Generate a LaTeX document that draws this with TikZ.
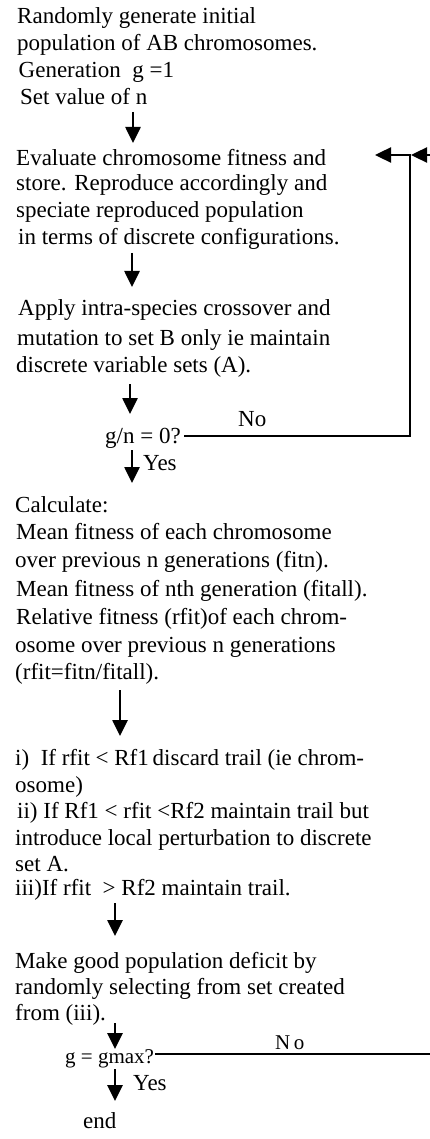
\documentclass[tikz,border=0pt]{standalone}
\usepackage{fontspec}
\setmainfont{Liberation Serif}
\usetikzlibrary{arrows.meta}
\begin{document}
\begin{tikzpicture}[x=1pt,y=-1pt,
  txt/.style={anchor=base west,inner sep=0pt,font=\fontsize{23}{26}\selectfont},
  smalltxt/.style={anchor=base west,inner sep=0pt,font=\fontsize{21}{24}\selectfont},
  arr/.style={line width=2.6pt,-{Triangle[width=15pt,length=16pt]}},
  loopline/.style={line width=2.4pt}]
\useasboundingbox (0,0) rectangle (429,1139);
% block 1
\node[txt] (b1a) at (17,24) {Randomly generate initial};
\node[txt] (b1b) at (17,51) {population of AB chromosomes.};
\node[txt] (b1c) at (18.5,78) {Generation\ \ g =1};
\node[txt] (b1d) at (20,105) {Set value of n};
% block 2
\node[txt] (b2a) at (16,166) {Evaluate chromosome fitness and};
\node[txt] (b2b) at (16,191) {store. Reproduce accordingly and};
\node[txt] (b2c) at (16,218) {speciate reproduced population};
\node[txt] (b2d) at (18,245) {in terms of discrete configurations.};
% block 3
\node[txt] (b3a) at (18,316) {Apply intra-species crossover and};
\node[txt] (b3b) at (17,345) {mutation to set B only ie maintain};
\node[txt] (b3c) at (16,372) {discrete variable sets (A).};
% decision 1
\node[txt] (gn) at (105,443) {g/n = 0?};
\node[txt] (no1) at (238,426) {No};
\node[txt] (yes1) at (143,470) {Yes};
% block 4
\node[txt] (b4a) at (15,512) {Calculate:};
\node[txt] (b4b) at (16,539) {Mean fitness of each chromosome};
\node[txt] (b4c) at (15,567) {over previous n generations (fitn).};
\node[txt] (b4d) at (16,596) {Mean fitness of nth generation (fitall).};
\node[txt] (b4e) at (16,624) {Relative fitness (rfit)of each chrom-};
\node[txt] (b4f) at (15,652) {osome over previous n generations};
\node[txt] (b4g) at (15,679) {(rfit=fitn/fitall).};
% block 5
\node[txt] (b5a) at (15,765) {i)\ \ If rfit < Rf1\,discard trail (ie chrom-};
\node[txt] (b5b) at (15,792) {osome)};
\node[txt] (b5c) at (17,818) {ii) If Rf1 < rfit <Rf2 maintain trail but};
\node[txt] (b5d) at (15,845) {introduce local perturbation to discrete};
\node[txt] (b5e) at (15,871) {set A.};
\node[txt] (b5f) at (15,895) {iii)If rfit\ \ > Rf2 maintain trail.};
% block 6
\node[txt] (b6a) at (15,968) {Make good population deficit by};
\node[txt] (b6b) at (15,994) {randomly selecting from set created};
\node[txt] (b6c) at (15,1020) {from (iii).};
% decision 2
\node[smalltxt] (gm) at (65,1063) {g = gmax?};
\node[smalltxt] (no2) at (275,1049) {N\,o};
\node[txt] (yes2) at (133,1090) {Yes};
\node[txt] (endn) at (83,1128) {end};
% arrow coordinates
\coordinate (a1s) at (133,112); \coordinate (a1e) at (133,143);
\coordinate (a2s) at (132,253); \coordinate (a2e) at (132,287);
\coordinate (a3s) at (130,384); \coordinate (a3e) at (130,414);
\coordinate (a4s) at (132,450); \coordinate (a4e) at (132,483);
\coordinate (a5s) at (120,690); \coordinate (a5e) at (120,736);
\coordinate (a6s) at (115,903); \coordinate (a6e) at (115,936);
\coordinate (a7s) at (115,1023); \coordinate (a7e) at (115,1049);
\coordinate (a8s) at (115,1069); \coordinate (a8e) at (115,1101);
\draw[arr] (a1s) -- (a1e);
\draw[arr] (a2s) -- (a2e);
\draw[arr] (a3s) -- (a3e);
\draw[arr] (a4s) -- (a4e);
\draw[arr] (a5s) -- (a5e);
\draw[arr] (a6s) -- (a6e);
\draw[arr] (a7s) -- (a7e);
\draw[arr] (a8s) -- (a8e);
% loop lines
\coordinate (l1s) at (184,436);
\coordinate (l1c) at (410,436);
\coordinate (l1t) at (410,155);
\coordinate (l1e) at (375,155);
\draw[arr,loopline,line join=miter] (l1s) -- (l1c) -- (l1t) -- (l1e);
\coordinate (l2s) at (155,1054);
\coordinate (l2c) at (440,1054);
\coordinate (l2t) at (440,155);
\coordinate (l2e) at (411,155);
\draw[arr,loopline,line join=miter] (l2s) -- (l2c) -- (l2t) -- (l2e);
\end{tikzpicture}
\end{document}
